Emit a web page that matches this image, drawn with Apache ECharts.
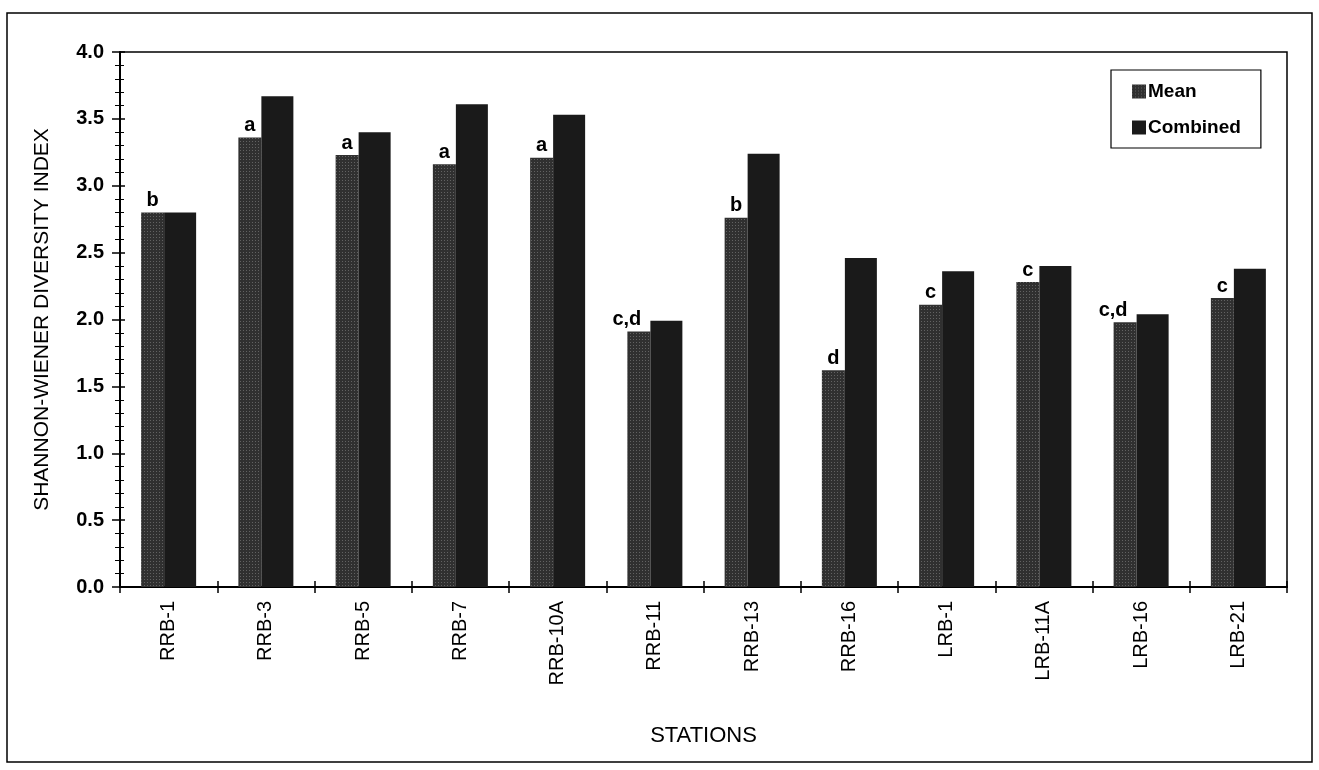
<!DOCTYPE html>
<html>
<head>
<meta charset="utf-8">
<script src="https://cdn.jsdelivr.net/npm/echarts@6/dist/echarts.min.js"></script>
<style>
html,body{margin:0;padding:0;background:#fff;}
#chart{width:1319px;height:770px;}
</style>
</head>
<body>
<div id="chart"></div>
<script>
const stations = ['RRB-1','RRB-3','RRB-5','RRB-7','RRB-10A','RRB-11','RRB-13','RRB-16','LRB-1','LRB-11A','LRB-16','LRB-21'];
const meanValues = [2.80, 3.36, 3.23, 3.16, 3.21, 1.91, 2.76, 1.62, 2.11, 2.28, 1.98, 2.16];
const combinedValues = [2.80, 3.67, 3.40, 3.61, 3.53, 1.99, 3.24, 2.46, 2.36, 2.40, 2.04, 2.38];
const letters = ['b','a','a','a','a','c,d','b','d','c','c','c,d','c'];
const yTicks = [0.0, 0.5, 1.0, 1.5, 2.0, 2.5, 3.0, 3.5, 4.0];

const chart = echarts.init(document.getElementById('chart'), null, {renderer:'canvas'});
const font = 'Liberation Sans, Arial, sans-serif';
const meanDecal = {
  symbol: 'rect',
  symbolSize: 1,
  color: 'rgba(140,140,140,0.55)',
  dashArrayX: [1, 2],
  dashArrayY: [1, 2],
  rotation: 0
};
const meanData = meanValues.map((v, i) => ({
  value: v,
  label: {offset: [letters[i].length > 1 ? -12 : 0, 0]}
}));
const option = {
  backgroundColor: '#fff',
  animation: false,
  textStyle: {fontFamily: font, color: '#000'},
  graphic: [{
    type: 'rect',
    shape: {x: 7, y: 13, width: 1305, height: 749},
    style: {fill: 'none', stroke: '#000', lineWidth: 1.5},
    z: -1
  }],
  legend: {
    orient: 'vertical',
    left: 1111,
    top: 70,
    width: 141,
    padding: [12, 20, 11, 21],
    itemGap: 17,
    itemWidth: 14,
    itemHeight: 14,
    borderColor: '#000',
    borderWidth: 1.2,
    backgroundColor: '#fff',
    textStyle: {fontFamily: font, fontSize: 19, fontWeight: 'bold', color: '#000', padding: [0, 0, 0, -3]},
    data: [
      {name: 'Mean', icon: 'rect'},
      {name: 'Combined', icon: 'rect'}
    ]
  },
  grid: {
    left: 120, right: 32, top: 52, bottom: 183,
    show: true, borderColor: '#000', borderWidth: 1.5
  },
  xAxis: [{
    type: 'category',
    data: stations,
    name: 'STATIONS',
    nameLocation: 'middle',
    nameGap: 138,
    nameTextStyle: {fontFamily: font, fontSize: 22, color: '#000'},
    axisLine: {lineStyle: {color: '#000', width: 2}},
    axisTick: {show: true, length: 6, lineStyle: {color: '#000', width: 1.5}},
    axisLabel: {rotate: 90, fontFamily: font, fontSize: 20, color: '#000', margin: 14},
    splitLine: {show: false}
  }, {
    type: 'category',
    data: stations,
    position: 'bottom',
    axisLine: {show: false},
    axisTick: {show: true, inside: true, length: 6, lineStyle: {color: '#000', width: 1.5}},
    axisLabel: {show: false},
    splitLine: {show: false}
  }],
  yAxis: [{
    type: 'value',
    min: 0, max: 4, interval: 0.5,
    name: 'SHANNON-WIENER DIVERSITY INDEX',
    nameLocation: 'middle',
    nameGap: 67,
    nameRotate: 90,
    nameTextStyle: {fontFamily: font, fontSize: 21, color: '#000'},
    axisLine: {show: true, lineStyle: {color: '#000', width: 2}},
    axisTick: {show: true, length: 8, lineStyle: {color: '#000', width: 1.5}},
    minorTick: {show: true, splitNumber: 5, length: 5, lineStyle: {color: '#000', width: 1}},
    axisLabel: {fontFamily: font, fontSize: 20, fontWeight: 'bold', color: '#000', margin: 16,
      formatter: v => yTicks.includes(+v.toFixed(1)) ? v.toFixed(1) : ''},
    splitLine: {show: false}
  }, {
    type: 'value',
    min: 0, max: 4, interval: 0.5,
    position: 'left',
    axisLine: {show: false},
    axisTick: {show: true, inside: true, length: 5, lineStyle: {color: '#000', width: 1.5}},
    minorTick: {show: true, splitNumber: 5, length: 4, lineStyle: {color: '#000', width: 1}},
    axisLabel: {show: false},
    splitLine: {show: false}
  }],
  series: [{
    name: 'Mean',
    type: 'bar',
    data: meanData,
    barWidth: 23,
    barGap: '0%',
    itemStyle: {color: '#303030', decal: meanDecal},
    label: {
      show: true,
      position: 'top',
      distance: 2,
      fontFamily: font,
      fontSize: 20,
      fontWeight: 'bold',
      color: '#000',
      formatter: p => letters[p.dataIndex]
    }
  }, {
    name: 'Combined',
    type: 'bar',
    data: combinedValues,
    barWidth: 32,
    barGap: '0%',
    itemStyle: {color: '#1a1a1a'}
  }]
};
chart.setOption(option);
</script>
</body>
</html>
